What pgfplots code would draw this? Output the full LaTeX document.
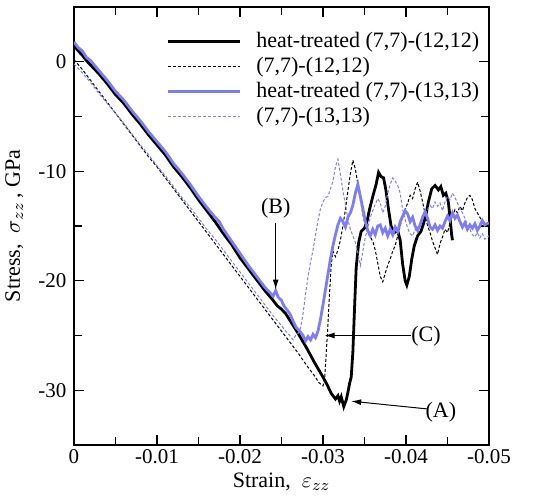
\documentclass[border=0pt]{standalone}
\usepackage{fontspec}
\setmainfont{Liberation Serif}
\usepackage{pgfplots}
\pgfplotsset{compat=1.18}
\usetikzlibrary{arrows.meta}
\definecolor{myblue}{RGB}{125,125,250}
\begin{document}
\fontsize{11}{13}\selectfont
\begin{tikzpicture}
\begin{axis}[
 name=main,
 scale only axis, width=207.5pt, height=219pt,
 x dir=reverse, xmin=-0.05, xmax=0, ymin=-35, ymax=5,
 scaled x ticks=false, scaled y ticks=false,
 xtick={0,-0.01,-0.02,-0.03,-0.04,-0.05},
 xticklabels={0,-0.01,-0.02,-0.03,-0.04,-0.05},
 ytick={-30,-20,-10,0}, yticklabels={-30,-20,-10,0},
 minor x tick num=1, minor y tick num=1,
 tick align=inside, tick pos=both,
 major tick length=5pt, minor tick length=4pt,
 tick style={black, line width=0.6pt},
 axis line style={line width=0.8pt},
 tick label style={font=\fontsize{10.5}{12}\selectfont},
 xticklabel style={yshift=1.5pt},
 xlabel={Strain,\ \ $\varepsilon_{zz}$},
 ylabel={Stress,\ \ $\sigma_{zz}$\,,\ GPa},
 label style={font=\fontsize{11}{13}\selectfont},
 xlabel style={yshift=3pt},
 legend image code/.code={\draw[#1] (0pt,0pt) -- (36pt,0pt);},
 legend style={at={(0.222,0.948)}, anchor=north west, draw=none, fill=none,
   inner sep=0pt, row sep=1.3pt, font=\fontsize{11}{13}\selectfont,
   nodes={inner sep=1pt},
   /tikz/every odd column/.append style={column sep=6.5pt}},
 legend cell align=left,
]
\addplot[black, line width=1.4pt] coordinates {
(0,1.5) (-0.0005,1.0) (-0.001,0.6) (-0.0015,0.1) (-0.002,-0.3) (-0.003,-1.1) (-0.004,-2.0) (-0.005,-3.0) (-0.006,-3.8) (-0.007,-4.8) (-0.008,-5.7) (-0.009,-6.7) (-0.010,-7.6) (-0.011,-8.5) (-0.012,-9.6) (-0.013,-10.5) (-0.014,-11.5) (-0.015,-12.6) (-0.016,-13.6) (-0.017,-14.6) (-0.018,-15.7) (-0.019,-16.7) (-0.020,-17.9) (-0.021,-18.9) (-0.022,-19.9) (-0.023,-20.9) (-0.024,-21.8) (-0.0245,-22.3) (-0.025,-22.6) (-0.0255,-23.0) (-0.026,-23.6) (-0.027,-24.8) (-0.028,-26.1) (-0.029,-27.5) (-0.030,-28.8) (-0.0305,-29.5) (-0.031,-30.3) (-0.0315,-30.8) (-0.0318,-30.5) (-0.032,-31.0) (-0.0322,-30.6) (-0.0325,-31.5) (-0.0328,-30.9) (-0.0330,-30.2) (-0.0332,-29.4) (-0.0334,-28.8) (-0.0336,-26.5) (-0.0338,-22.5) (-0.0340,-18.8) (-0.0343,-16.5) (-0.0346,-15.5) (-0.0350,-15.2) (-0.0353,-14.6) (-0.0356,-13.5) (-0.0360,-12.3) (-0.0364,-11.2) (-0.0367,-10.1) (-0.0370,-10.5) (-0.0373,-10.6) (-0.0376,-11.8) (-0.0379,-13.5) (-0.0382,-15.0) (-0.0386,-15.6) (-0.0390,-15.4) (-0.0393,-16.3) (-0.0396,-18.5) (-0.0399,-20.0) (-0.0401,-20.4) (-0.0404,-19.6) (-0.0407,-18.0) (-0.0410,-16.8) (-0.0414,-15.9) (-0.0418,-15.5) (-0.0421,-14.8) (-0.0424,-14.0) (-0.0427,-12.8) (-0.0431,-11.6) (-0.0435,-11.3) (-0.0439,-11.7) (-0.0442,-11.4) (-0.0445,-12.2) (-0.0448,-12.0) (-0.0451,-12.8) (-0.0453,-14.2) (-0.0455,-15.8) (-0.0456,-16.3)
};
\addlegendentry{heat-treated (7,7)-(12,12)}
\addplot[black, line width=0.5pt, dash pattern=on 1.5pt off 1pt] coordinates {
(0,0.2) (-0.001,-0.7) (-0.002,-1.7) (-0.003,-2.7) (-0.004,-3.7) (-0.005,-4.7) (-0.006,-5.7) (-0.007,-6.7) (-0.008,-7.7) (-0.009,-8.7) (-0.010,-9.6) (-0.011,-10.6) (-0.012,-11.6) (-0.013,-12.6) (-0.014,-13.6) (-0.015,-14.6) (-0.016,-15.6) (-0.017,-16.6) (-0.018,-17.6) (-0.019,-18.6) (-0.020,-19.6) (-0.021,-20.6) (-0.022,-21.6) (-0.023,-22.6) (-0.024,-23.6) (-0.025,-24.6) (-0.026,-25.6) (-0.027,-26.6) (-0.028,-27.7) (-0.029,-28.7) (-0.0295,-29.3) (-0.0300,-29.6) (-0.0302,-29.0) (-0.0304,-26.5) (-0.0306,-24.0) (-0.0308,-21.0) (-0.0310,-18.5) (-0.0312,-17.3) (-0.0315,-17.8) (-0.0318,-17.2) (-0.0321,-16.3) (-0.0324,-15.0) (-0.0327,-13.5) (-0.0330,-11.8) (-0.0333,-10.2) (-0.0336,-9.0) (-0.0339,-9.8) (-0.0342,-11.2) (-0.0345,-12.6) (-0.0348,-13.9) (-0.0351,-15.0) (-0.0354,-15.6) (-0.0357,-16.0) (-0.0360,-16.4) (-0.0363,-17.2) (-0.0366,-18.4) (-0.0369,-19.6) (-0.0372,-20.1) (-0.0375,-19.3) (-0.0378,-18.6) (-0.0381,-18.0) (-0.0384,-17.3) (-0.0387,-16.8) (-0.0390,-15.9) (-0.0393,-15.0) (-0.0396,-14.1) (-0.0399,-13.5) (-0.0402,-12.9) (-0.0405,-12.2) (-0.0408,-12.5) (-0.0411,-11.6) (-0.0414,-11.0) (-0.0417,-11.8) (-0.0420,-12.8) (-0.0423,-13.9) (-0.0426,-15.0) (-0.0429,-15.6) (-0.0432,-16.4) (-0.0435,-17.0) (-0.0438,-17.6) (-0.0441,-16.6) (-0.0444,-16.0) (-0.0447,-15.3) (-0.0450,-15.6) (-0.0453,-14.7) (-0.0456,-14.2) (-0.0459,-13.5) (-0.0462,-13.8) (-0.0465,-13.2) (-0.0468,-13.6) (-0.0471,-12.9) (-0.0474,-12.4) (-0.0477,-12.2) (-0.0480,-12.6) (-0.0483,-13.4) (-0.0486,-13.8) (-0.0489,-14.2) (-0.0492,-14.6) (-0.0495,-14.9) (-0.0500,-15.0)
};
\addlegendentry{(7,7)-(12,12)}
\addplot[myblue, line width=1.4pt] coordinates {
(0,1.8) (-0.0005,1.3) (-0.001,1.0) (-0.0015,0.4) (-0.002,0.1) (-0.003,-0.8) (-0.004,-1.7) (-0.005,-2.7) (-0.006,-3.5) (-0.007,-4.5) (-0.008,-5.4) (-0.009,-6.4) (-0.010,-7.3) (-0.011,-8.2) (-0.012,-9.3) (-0.013,-10.2) (-0.014,-11.2) (-0.015,-12.3) (-0.016,-13.3) (-0.017,-14.2) (-0.0175,-14.6) (-0.018,-15.3) (-0.019,-16.4) (-0.020,-17.5) (-0.021,-18.6) (-0.022,-19.6) (-0.023,-20.6) (-0.0235,-21.0) (-0.024,-21.4) (-0.0243,-20.9) (-0.0246,-21.5) (-0.0250,-21.8) (-0.0253,-22.3) (-0.0256,-22.6) (-0.0260,-23.0) (-0.0264,-23.7) (-0.0268,-24.3) (-0.0272,-24.6) (-0.0276,-25.0) (-0.0279,-25.5) (-0.0282,-25.1) (-0.0285,-25.4) (-0.0288,-24.9) (-0.0291,-25.2) (-0.0294,-24.6) (-0.0297,-23.5) (-0.0300,-22.2) (-0.0303,-20.8) (-0.0306,-19.4) (-0.0309,-18.0) (-0.0312,-16.8) (-0.0315,-15.8) (-0.0318,-14.9) (-0.0321,-14.3) (-0.0324,-14.6) (-0.0327,-15.1) (-0.0330,-14.2) (-0.0333,-13.8) (-0.0336,-13.1) (-0.0339,-12.0) (-0.0342,-11.2) (-0.0345,-12.3) (-0.0348,-13.4) (-0.0351,-14.6) (-0.0354,-15.4) (-0.0357,-15.9) (-0.0360,-15.3) (-0.0363,-15.8) (-0.0366,-15.0) (-0.0369,-14.9) (-0.0372,-15.6) (-0.0375,-15.2) (-0.0378,-15.9) (-0.0381,-15.3) (-0.0384,-15.8) (-0.0387,-15.1) (-0.0390,-15.5) (-0.0393,-14.6) (-0.0396,-14.1) (-0.0399,-13.6) (-0.0402,-13.9) (-0.0405,-14.6) (-0.0408,-14.2) (-0.0411,-15.0) (-0.0414,-15.4) (-0.0417,-14.9) (-0.0420,-14.2) (-0.0423,-13.7) (-0.0426,-14.3) (-0.0429,-15.1) (-0.0432,-15.3) (-0.0435,-14.9) (-0.0438,-15.4) (-0.0441,-15.0) (-0.0444,-15.2) (-0.0447,-14.6) (-0.0450,-14.1) (-0.0453,-14.5) (-0.0456,-13.8) (-0.0459,-14.3) (-0.0462,-14.0) (-0.0465,-14.6) (-0.0468,-15.1) (-0.0471,-14.7) (-0.0474,-15.3) (-0.0477,-14.9) (-0.0480,-15.2) (-0.0483,-14.8) (-0.0486,-15.4) (-0.0489,-15.0) (-0.0492,-14.5) (-0.0495,-14.9) (-0.0500,-14.7)
};
\addlegendentry{heat-treated (7,7)-(13,13)}
\addplot[myblue, line width=0.5pt, dash pattern=on 1.5pt off 1pt] coordinates {
(0,-0.2) (-0.001,-1.0) (-0.002,-1.9) (-0.003,-2.9) (-0.004,-3.8) (-0.005,-4.7) (-0.006,-5.6) (-0.007,-6.6) (-0.008,-7.6) (-0.009,-8.5) (-0.010,-9.5) (-0.011,-10.4) (-0.012,-11.4) (-0.013,-12.4) (-0.014,-13.3) (-0.015,-14.3) (-0.016,-15.3) (-0.017,-16.2) (-0.018,-17.2) (-0.019,-18.2) (-0.020,-19.2) (-0.021,-20.2) (-0.022,-21.2) (-0.023,-22.2) (-0.024,-23.2) (-0.025,-24.1) (-0.0255,-24.6) (-0.026,-25.0) (-0.0264,-25.4) (-0.0267,-25.0) (-0.0270,-24.8) (-0.0273,-24.3) (-0.0276,-23.0) (-0.0279,-21.2) (-0.0282,-19.6) (-0.0285,-18.3) (-0.0288,-17.2) (-0.0291,-15.8) (-0.0294,-14.5) (-0.0297,-13.4) (-0.0300,-12.8) (-0.0303,-12.4) (-0.0306,-12.3) (-0.0309,-11.6) (-0.0312,-10.9) (-0.0315,-9.6) (-0.0318,-8.9) (-0.0321,-10.3) (-0.0324,-11.8) (-0.0327,-13.0) (-0.0330,-14.4) (-0.0333,-15.3) (-0.0336,-15.9) (-0.0339,-16.5) (-0.0342,-17.4) (-0.0345,-18.6) (-0.0348,-17.3) (-0.0351,-16.0) (-0.0354,-15.2) (-0.0357,-14.2) (-0.0360,-13.6) (-0.0363,-13.0) (-0.0366,-12.5) (-0.0369,-12.9) (-0.0372,-13.8) (-0.0375,-13.2) (-0.0378,-12.0) (-0.0381,-11.2) (-0.0384,-10.6) (-0.0387,-10.9) (-0.0390,-11.3) (-0.0393,-12.0) (-0.0396,-13.5) (-0.0399,-14.4) (-0.0402,-15.2) (-0.0405,-15.7) (-0.0408,-15.9) (-0.0411,-15.3) (-0.0414,-15.6) (-0.0417,-14.8) (-0.0420,-14.2) (-0.0423,-13.9) (-0.0426,-13.5) (-0.0429,-13.1) (-0.0432,-13.4) (-0.0435,-12.8) (-0.0438,-13.2) (-0.0441,-12.9) (-0.0444,-13.6) (-0.0447,-12.8) (-0.0450,-12.3) (-0.0453,-12.6) (-0.0456,-12.0) (-0.0459,-12.4) (-0.0462,-12.9) (-0.0465,-13.4) (-0.0468,-13.8) (-0.0471,-14.3) (-0.0474,-14.9) (-0.0477,-15.3) (-0.0480,-15.8) (-0.0483,-16.0) (-0.0486,-15.6) (-0.0489,-16.1) (-0.0492,-15.7) (-0.0495,-16.2) (-0.0500,-15.9)
};
\addlegendentry{(7,7)-(13,13)}
\node[font=\fontsize{11}{13}\selectfont] at (axis cs:-0.0442,-32.0) {(A)};
\draw[-{Latex[length=5pt,width=3pt]}, line width=0.5pt] (axis cs:-0.0425,-31.7) -- (axis cs:-0.0334,-31.0);
\node[font=\fontsize{11}{13}\selectfont] at (axis cs:-0.0424,-25.1) {(C)};
\draw[-{Latex[length=5pt,width=3pt]}, line width=0.5pt] (axis cs:-0.0406,-25.0) -- (axis cs:-0.0302,-25.0);
\node[font=\fontsize{11}{13}\selectfont] at (axis cs:-0.0243,-13.4) {(B)};
\draw[-{Latex[length=5pt,width=3pt]}, line width=0.5pt] (axis cs:-0.0243,-14.7) -- (axis cs:-0.0243,-20.8);
\end{axis}
\pgfresetboundingbox
\path[use as bounding box] ([xshift=-37pt,yshift=-26pt]main.south west) rectangle ([xshift=31pt,yshift=3.5pt]main.north east);
\end{tikzpicture}
\end{document}
